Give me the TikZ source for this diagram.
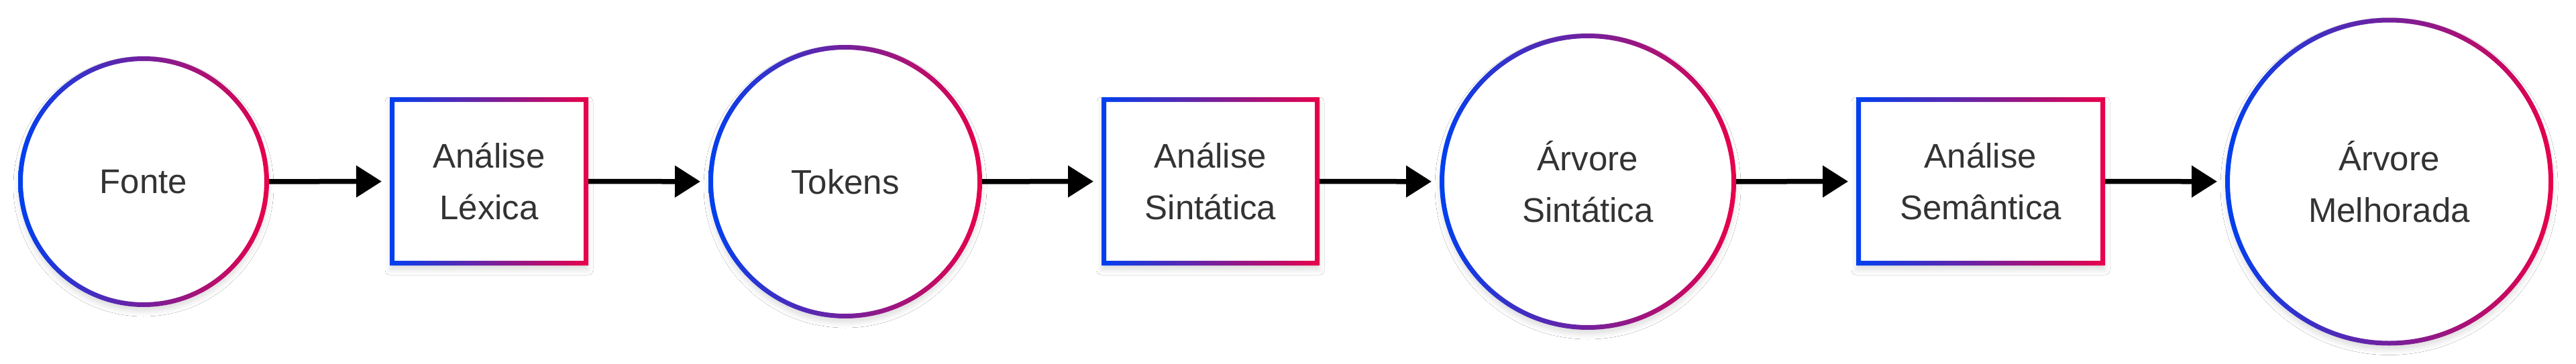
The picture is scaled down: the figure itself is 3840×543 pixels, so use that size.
\documentclass[tikz,border=0pt]{standalone}
\usepackage{fontspec}
\setmainfont{Liberation Sans}
\usetikzlibrary{arrows.meta,shadows.blur,backgrounds}
\definecolor{gblue}{HTML}{0040F0}
\definecolor{gred}{HTML}{E8004A}
\definecolor{txt}{HTML}{333333}
\tikzset{
  shapefill/.style={fill=white, blur shadow={shadow xshift=0pt, shadow yshift=-7pt, shadow blur radius=7pt, shadow opacity=12}},
  gring/.style={left color=gblue, right color=gred, even odd rule},
  lbl/.style={inner sep=0pt, outer sep=0pt, font=\fontsize{51}{77}\selectfont, text=txt, align=center},
  circnode/.style={lbl, circle, minimum size=#1},
  boxnode/.style={lbl, rectangle, minimum height=251pt, minimum width=#1},
  connector/.style={line width=7.5pt, draw=black, -{Triangle[length=38pt,width=46pt]}, shorten >=12pt},
}
\newcommand{\decorcirc}[3]{% name, R, inner R
  \begin{pgfonlayer}{background}
    \fill[shapefill] (#1.center) circle[radius=#2];
    \shade[gring] (#1.center) circle[radius=#2] (#1.center) circle[radius=#3];
  \end{pgfonlayer}}
\newcommand{\decorbox}[1]{%
  \begin{pgfonlayer}{background}
    \fill[shapefill] (#1.north west) rectangle (#1.south east);
    \shade[gring] (#1.north west) rectangle (#1.south east)
      ([shift={(7pt,-7pt)}]#1.north west) rectangle ([shift={(-7pt,7pt)}]#1.south east);
  \end{pgfonlayer}}
\begin{document}
\begin{tikzpicture}[x=1pt,y=-1pt]
  \begin{pgfonlayer}{background}
    \fill[white] (0,0) rectangle (3840,543);
  \end{pgfonlayer}
  \useasboundingbox (0,0) rectangle (3840,543);

  \node[circnode=374pt] (fonte) at (214,271) {Fonte};
  \decorcirc{fonte}{187pt}{180pt}
  \node[boxnode=296pt] (lex) at (729,270.5) {Análise\\Léxica};
  \decorbox{lex}
  \node[circnode=408pt] (tokens) at (1260,271) {Tokens};
  \decorcirc{tokens}{204pt}{197pt}
  \node[boxnode=325pt] (sin) at (1804.5,270.5) {Análise\\Sintática};
  \decorbox{sin}
  \node[circnode=442pt] (arv) at (2367,271) {Árvore\\Sintática};
  \decorcirc{arv}{221pt}{214pt}
  \node[boxnode=371pt] (sem) at (2952.5,270.5) {Análise\\Semântica};
  \decorbox{sem}
  \node[circnode=489pt] (mel) at (3561.5,271) {Árvore\\Melhorada};
  \decorcirc{mel}{244.5pt}{237.5pt}

  \draw[connector] (fonte) -- (lex);
  \draw[connector] (lex) -- (tokens);
  \draw[connector] (tokens) -- (sin);
  \draw[connector] (sin) -- (arv);
  \draw[connector] (arv) -- (sem);
  \draw[connector] (sem) -- (mel);
\end{tikzpicture}
\end{document}
